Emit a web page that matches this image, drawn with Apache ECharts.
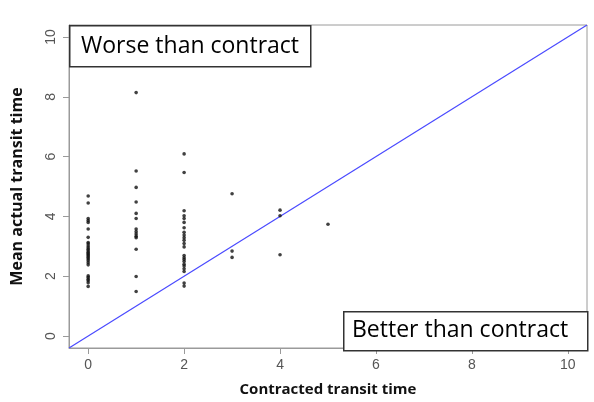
<!DOCTYPE html>
<html>
<head>
<meta charset="utf-8">
<script src="https://cdn.jsdelivr.net/npm/echarts@6/dist/echarts.min.js"></script>
<style>
html,body{margin:0;padding:0;background:#fff;}
#chart{width:594px;height:402px;}
</style>
</head>
<body>
<div id="chart"></div>
<script>
// Contracted transit time (x) and mean actual transit time (y)
const contracted0 = [0,0,0,0,0,0,0,0,0,0,0,0,0,0,0,0,0,0,0,0,0,0,0,0,0,0,0,0];
const actual0 = [4.68,4.45,3.93,3.86,3.80,3.58,3.30,3.13,3.08,3.01,2.95,2.90,2.85,2.80,2.76,2.72,2.68,2.63,2.58,2.52,2.45,2.38,2.01,1.96,1.90,1.85,1.78,1.66];
const contracted1 = [1,1,1,1,1,1,1,1,1,1,1,1,1,1];
const actual1 = [8.14,5.52,4.97,4.48,4.10,3.93,3.58,3.49,3.41,3.34,3.29,2.90,1.99,1.49];
const contracted2 = [2,2,2,2,2,2,2,2,2,2,2,2,2,2,2,2,2,2,2,2,2,2,2];
const actual2 = [6.09,5.47,4.19,4.02,3.93,3.80,3.62,3.47,3.38,3.29,3.20,3.09,2.98,2.69,2.62,2.56,2.49,2.40,2.34,2.25,2.16,1.77,1.67];
const contractedOther = [3,3,3,4,4,4,5];
const actualOther = [4.76,2.84,2.63,4.21,4.02,2.72,3.74];
const xTicks = [0,2,4,6,8,10];
const yTicks = [0,2,4,6,8,10];
const refLineX = [-0.4, 10.4];   // y = x reference line
const axisMin = -0.4, axisMax = 10.4;

const xs = [].concat(contracted0, contracted1, contracted2, contractedOther);
const ys = [].concat(actual0, actual1, actual2, actualOther);
const points = xs.map((x, i) => [x, ys[i]]);
const linePts = refLineX.map(v => [v, v]);

const chart = echarts.init(document.getElementById('chart'), null, {renderer: 'canvas'});
const grid = {left: 69, right: 7, top: 25, bottom: 52};
const axisCommon = {
  type: 'value', min: axisMin, max: axisMax,
  axisLine: {show: true, onZero: false, lineStyle: {color: '#9a9a9a', width: 1}},
  splitLine: {show: false}
};
chart.setOption({
  animation: false,
  backgroundColor: '#fff',
  grid: Object.assign({show: true, borderColor: '#9a9a9a', borderWidth: 1}, grid),
  xAxis: Object.assign({}, axisCommon, {
    name: 'Contracted transit time', nameLocation: 'middle', nameGap: 34,
    nameTextStyle: {fontFamily: 'Open Sans', fontWeight: 'bold', fontSize: 15, color: '#111'},
    axisLabel: {
      margin: 10, fontFamily: 'Liberation Sans', fontSize: 14, color: '#555',
      customValues: xTicks
    },
    axisTick: {show: true, length: 6, lineStyle: {color: '#9a9a9a'}, customValues: xTicks}
  }),
  yAxis: Object.assign({}, axisCommon, {
    name: 'Mean actual transit time', nameLocation: 'middle', nameGap: 44,
    nameTextStyle: {fontFamily: 'Open Sans', fontWeight: 'bold', fontSize: 16, color: '#111'},
    axisLabel: {
      margin: 11, rotate: 90, fontFamily: 'Liberation Sans', fontSize: 14, color: '#555',
      customValues: yTicks
    },
    axisTick: {show: true, length: 6, lineStyle: {color: '#9a9a9a'}, customValues: yTicks}
  }),
  series: [
    {
      type: 'line', data: linePts, showSymbol: false, symbol: 'none',
      lineStyle: {color: '#4a4aff', width: 1.2}, silent: true, z: 1
    },
    {
      type: 'scatter', data: points, symbol: 'circle', symbolSize: 3.6,
      itemStyle: {color: '#111'}, z: 2
    }
  ],
  graphic: [
    {type: 'rect', left: 69, top: 25, shape: {width: 241, height: 41},
     style: {fill: '#fff', stroke: '#333', lineWidth: 1.5}, z: 10},
    {type: 'text', x: 81, y: 46, style: {text: 'Worse than contract', font: '23px "Open Sans"', fill: '#000', textAlign: 'left', textVerticalAlign: 'middle'}, z: 11},
    {type: 'rect', left: 343, top: 311, shape: {width: 244, height: 39},
     style: {fill: '#fff', stroke: '#333', lineWidth: 1.5}, z: 10},
    {type: 'text', x: 352, y: 330, style: {text: 'Better than contract', font: '23px "Open Sans"', fill: '#000', textAlign: 'left', textVerticalAlign: 'middle'}, z: 11}
  ]
});
</script>
</body>
</html>
